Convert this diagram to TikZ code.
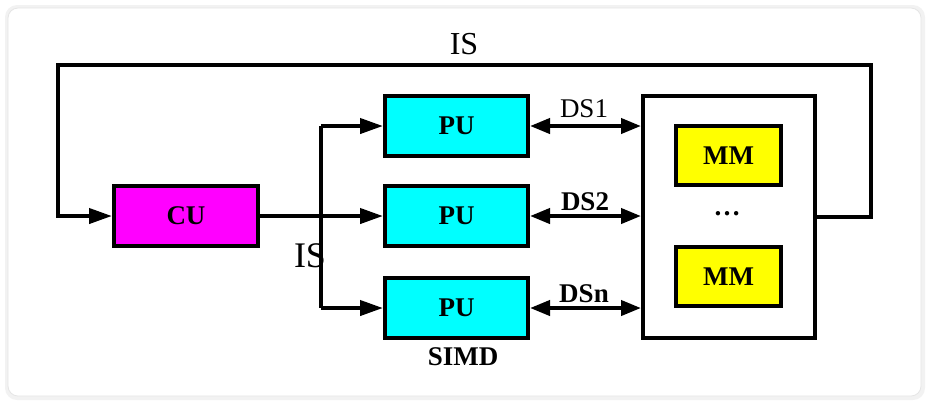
\documentclass[tikz,border=0pt]{standalone}
\usepackage{fontspec}
\usepackage{xcolor}
\usepackage{tikz}
\usetikzlibrary{arrows.meta}
\setmainfont{Liberation Serif}

\definecolor{cucol}{HTML}{FF00FF}
\definecolor{pucol}{HTML}{00FFFF}
\definecolor{mmcol}{HTML}{FFFF00}

\tikzset{
	unit/.style={draw, line width=2pt, inner sep=0pt, font=\fontsize{13.5}{16}\selectfont\bfseries},
	cubox/.style={unit, fill=cucol, minimum width=72pt, minimum height=30pt},
	pubox/.style={unit, fill=pucol, minimum width=71.5pt, minimum height=30pt},
	mmbox/.style={unit, fill=mmcol, minimum width=52.5pt, minimum height=29.5pt},
	membox/.style={draw, line width=2pt, fill=white, minimum width=86pt, minimum height=121pt},
	bus/.style={line width=2pt},
	tip/.style={-{Triangle[length=11.5pt,width=7.5pt]}},
	twotip/.style={{Triangle[length=10pt,width=7.5pt]}-{Triangle[length=10pt,width=7.5pt]}},
}

\begin{document}
\begin{tikzpicture}[x=0.5pt, y=-0.5pt]
	\useasboundingbox (0,0) rectangle (930,404);
	\fill[gray!10, rounded corners=6pt] (5,5) rectangle (925,400);
	\fill[white, rounded corners=5pt] (8,8) rectangle (921,396);
	\draw[gray!20, rounded corners=5pt] (8,8) rectangle (921,396);

	\node[cubox] (cu) at (186,216) {CU};
	\node[pubox] (pu1) at (456.5,126) {PU};
	\node[pubox] (pu2) at (456.5,216) {PU};
	\node[pubox] (pu3) at (456.5,308) {PU};
	\node[membox] (mem) at (729,217) {};
	\node[mmbox] (mm1) at (728.5,155.5) {MM};
	\node[mmbox] (mm2) at (728.5,276.5) {MM};
	\node[font=\fontsize{13.5}{16}\selectfont\bfseries] (dots) at (727,214) {\dots};

	% IS loop from memory back to CU
	\coordinate (tr) at (871,65);
	\coordinate (tl) at (58,65);
	\draw[bus, tip] (mem.east) -| (tr) -- (tl) |- (cu.west);
	\node[font=\fontsize{16}{18}\selectfont] (istop) at (464,44) {IS};

	% IS bus from CU to the PUs
	\coordinate (bt) at (321,126);
	\coordinate (bb) at (321,308);
	\draw[bus] (bt) -- (bb);
	\draw[bus, tip] (bt) -- (pu1.west);
	\draw[bus, tip] (cu.east) -- (pu2.west);
	\draw[bus, tip] (bb) -- (pu3.west);
	\node[font=\fontsize{18}{20}\selectfont] (ismid) at (310,256) {IS};

	\draw[bus, twotip] (pu1.east) -- (pu1.east -| mem.west);
	\draw[bus, twotip] (pu2.east) -- (pu2.east -| mem.west);
	\draw[bus, twotip] (pu3.east) -- (pu3.east -| mem.west);
	\node[font=\fontsize{13.5}{16}\selectfont] (ds1) at (584,109) {DS1};
	\node[font=\fontsize{13.5}{16}\selectfont\bfseries] (ds2) at (585,202) {DS2};
	\node[font=\fontsize{13.5}{16}\selectfont\bfseries] (dsn) at (584,294) {DSn};

	\node[font=\fontsize{13.5}{16}\selectfont\bfseries] (simd) at (463,357) {SIMD};
\end{tikzpicture}
\end{document}
